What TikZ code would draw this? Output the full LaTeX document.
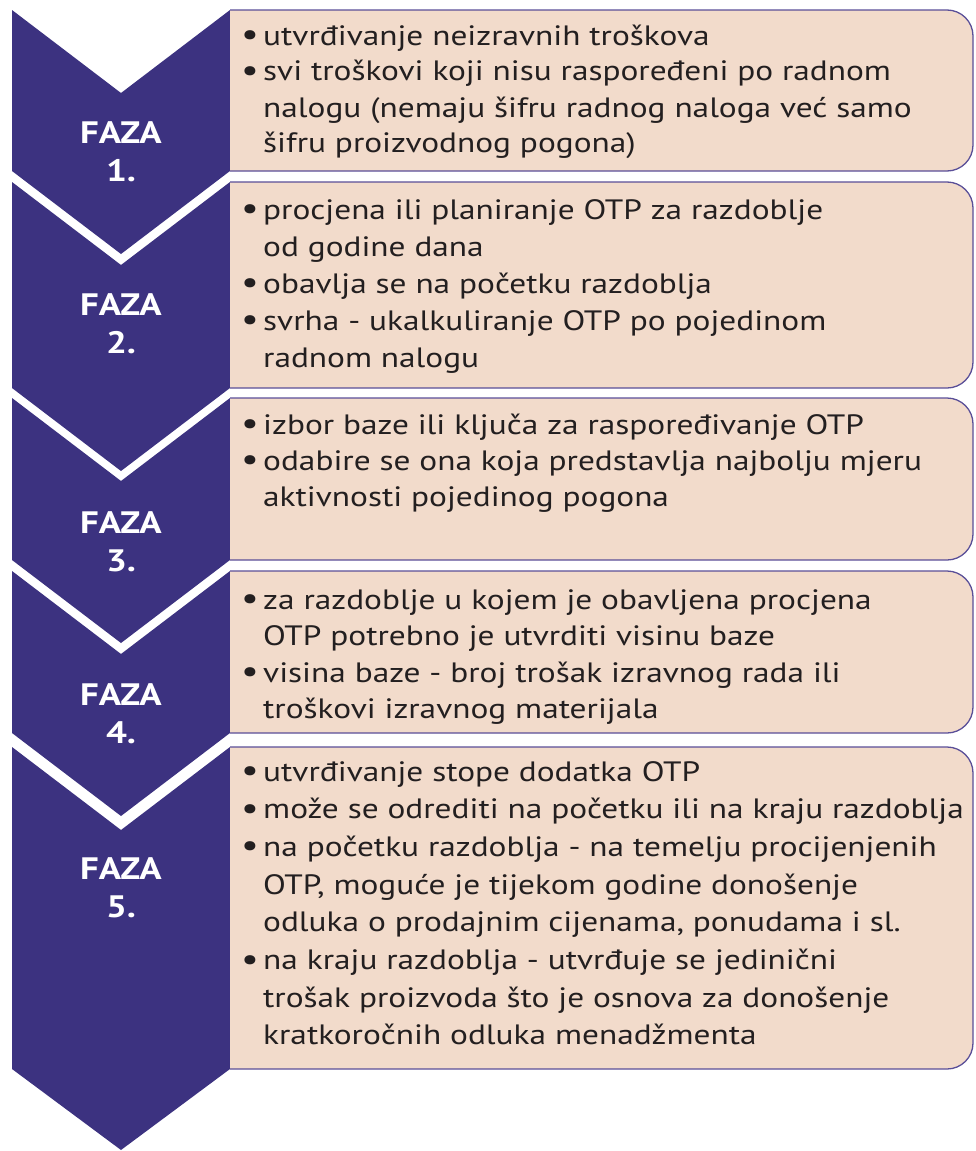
\documentclass[tikz,border=0pt]{standalone}
\usepackage{fontspec}
\setmainfont[FakeStretch=1.19]{PT Sans}
\definecolor{chev}{HTML}{3C3280}
\definecolor{boxfill}{HTML}{F2DBCB}
\definecolor{boxline}{HTML}{5A4F98}
\definecolor{txt}{HTML}{231F20}
\newcommand{\bul}{\makebox[22pt][l]{\raisebox{-0.5pt}{\fontsize{33}{0}\selectfont•}}}
\newcommand{\ind}{\hspace*{22pt}}
\tikzset{
  chevron/.style={fill=chev, draw=none},
  infobox/.style={fill=boxfill, draw=boxline, line width=1.3pt, rounded corners=26pt},
  faza/.style={text=white, font=\fontsize{31}{38}\selectfont\bfseries, align=center, inner sep=0pt, anchor=base},
  boxtext/.style={anchor=base west, inner sep=0pt, text=txt, font=\fontsize{28}{37}\selectfont}
}
\begin{document}
\begin{tikzpicture}[x=1pt,y=-1pt]
\useasboundingbox (0,0) rectangle (975,1151);
\def\d{83}
% chevrons
\fill[chevron] (12,10) -- (121,10+\d) -- (230,10) -- (230,171) -- (121,171+\d) -- (12,171) -- cycle;
\fill[chevron] (12,182) -- (121,182+\d) -- (230,182) -- (230,388) -- (121,388+\d) -- (12,388) -- cycle;
\fill[chevron] (12,398) -- (121,398+\d) -- (230,398) -- (230,560) -- (121,560+\d) -- (12,560) -- cycle;
\fill[chevron] (12,571) -- (121,571+\d) -- (230,571) -- (230,733) -- (121,733+\d) -- (12,733) -- cycle;
\fill[chevron] (12,747) -- (121,747+\d) -- (230,747) -- (230,1069) -- (121,1150) -- (12,1069) -- cycle;
% boxes
\path[infobox] (230,10) -- (973,10) -- (973,171) -- (230,171);
\path[infobox] (230,182) -- (973,182) -- (973,388) -- (230,388);
\path[infobox] (230,398) -- (973,398) -- (973,560) -- (230,560);
\path[infobox] (230,571) -- (973,571) -- (973,733) -- (230,733);
\path[infobox] (230,747) -- (973,747) -- (973,1069) -- (230,1069);
% labels
\node[faza] (f1) at (121,181) {FAZA\\1.};
\node[faza] (f2) at (121,353) {FAZA\\2.};
\node[faza] (f3) at (121,571) {FAZA\\3.};
\node[faza] (f4) at (121,743) {FAZA\\4.};
\node[faza] (f5) at (121,917) {FAZA\\5.};
% texts
\node[boxtext] (t1) at (241,45) {\parbox[t]{730pt}{\fontsize{28}{36}\selectfont
\bul utvrđivanje neizravnih troškova\\
\bul svi troškovi koji nisu raspoređeni po radnom\\
\ind nalogu (nemaju šifru radnog naloga već samo\\
\ind šifru proizvodnog pogona)}};
\node[boxtext] (t2) at (241,219) {\parbox[t]{730pt}{\fontsize{28}{37}\selectfont
\bul procjena ili planiranje OTP za razdoblje\\
\ind od godine dana\\
\bul obavlja se na početku razdoblja\\
\bul svrha - ukalkuliranje OTP po pojedinom\\
\ind radnom nalogu}};
\node[boxtext] (t3) at (241,434) {\parbox[t]{730pt}{\fontsize{28}{36}\selectfont
\bul izbor baze ili ključa za raspoređivanje OTP\\
\bul odabire se ona koja predstavlja najbolju mjeru\\
\ind aktivnosti pojedinog pogona}};
\node[boxtext] (t4) at (241,609) {\parbox[t]{730pt}{\fontsize{28}{36.5}\selectfont
\bul za razdoblje u kojem je obavljena procjena\\
\ind OTP potrebno je utvrditi visinu baze\\
\bul visina baze - broj trošak izravnog rada ili\\
\ind troškovi izravnog materijala}};
\node[boxtext] (t5) at (241,781) {\parbox[t]{730pt}{\fontsize{28}{37.7}\selectfont
\bul utvrđivanje stope dodatka OTP\\
\bul može se odrediti na početku ili na kraju razdoblja\\
\bul na početku razdoblja - na temelju procijenjenih\\
\ind OTP, moguće je tijekom godine donošenje\\
\ind odluka o prodajnim cijenama, ponudama i sl.\\
\bul na kraju razdoblja - utvrđuje se jedinični\\
\ind trošak proizvoda što je osnova za donošenje\\
\ind kratkoročnih odluka menadžmenta}};
\end{tikzpicture}
\end{document}
